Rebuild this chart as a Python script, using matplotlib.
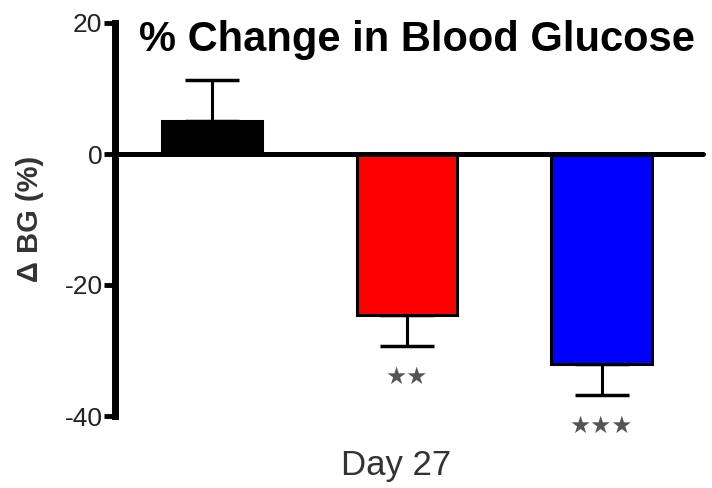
import matplotlib
matplotlib.use("Agg")
import matplotlib.pyplot as plt

groups = ["Control", "Treatment A", "Treatment B"]
values = [5.0, -24.6, -32.1]
errors = [6.3, 4.7, 4.7]
colors = ["#000000", "#ff0000", "#0000ff"]
stars = ["", "★★", "★★★"]
yticks = [20, 0, -20, -40]

plt.rcParams['font.family'] = ['Liberation Sans', 'DejaVu Sans']

fig = plt.figure(figsize=(7.12, 4.88), dpi=100)
ax = fig.add_axes([115/712, 1-416/488, (703-115)/712, (416-23)/488])

x = list(range(len(values)))
for xi, v, e, c in zip(x, values, errors, colors):
    ax.bar(xi, v, width=0.515, color=c, edgecolor="black", linewidth=2.2, zorder=2)
    if v >= 0:
        yerr = [[0], [e]]
    else:
        yerr = [[e], [0]]
    ax.errorbar(xi, v, yerr=yerr, fmt="none", ecolor="black", elinewidth=2.2,
                capsize=19.5, capthick=2.5, zorder=1)

for xi, v, e, s in zip(x, values, errors, stars):
    if s:
        ax.annotate(s, xy=(xi, v - e), xytext=(0, -22), textcoords="offset points",
                    ha="center", va="center", fontsize=17, color="#555555",
                    family=["DejaVu Sans"])

ax.set_xlim(-0.497, 2.52)
ax.set_ylim(-40, 20)
ax.set_yticks(yticks)
ax.set_yticklabels([str(t) for t in yticks], fontsize=19, color="#222222")
ax.tick_params(axis="y", length=8, width=3.5, pad=1, direction="out")
ax.set_xticks([])

for side in ["top", "right"]:
    ax.spines[side].set_visible(False)
ax.spines["left"].set_linewidth(5)
ax.spines["left"].set_capstyle("projecting")
ax.spines["bottom"].set_position(("data", 0))
ax.spines["bottom"].set_linewidth(3.6)
ax.spines["bottom"].set_zorder(3)
ax.spines["bottom"].set_capstyle("round")

fig.text(30/712, 1-219/488, "Δ BG (%)", rotation=90, ha="center", va="center",
         fontsize=21, fontweight="bold", color="#333333")
fig.text(417/712, 1-40/488, "% Change in Blood Glucose", ha="center", va="center",
         fontsize=30, fontweight="bold", color="black")
fig.text(396/712, 1-465/488, "Day 27", ha="center", va="center",
         fontsize=25, color="#333333")

fig.savefig("out.png", dpi=100)
